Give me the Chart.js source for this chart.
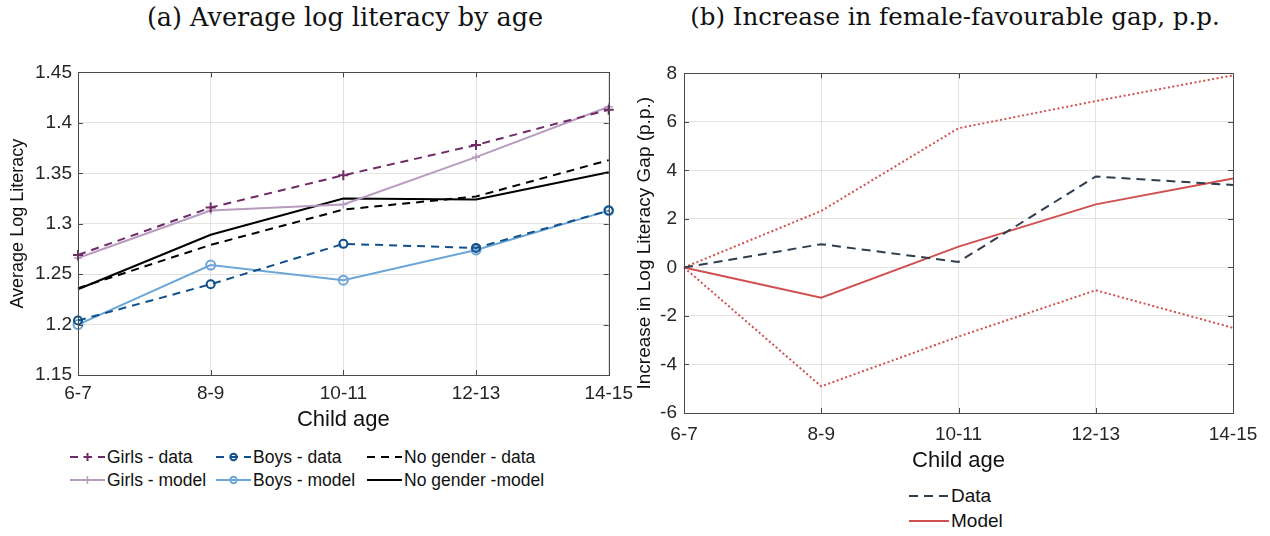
<!DOCTYPE html>
<html>
<head>
<meta charset="utf-8">
<script src="https://cdn.jsdelivr.net/npm/chart.js@4"></script>
<style>
    body { margin: 0; background: #fff; width: 1270px; height: 536px; position: relative; overflow: hidden;
           font-family: "Liberation Sans", Arial, sans-serif; color: #262626; }
    .title { position: absolute; top: 2px; font-family: "DejaVu Serif", serif; color: #111;
             white-space: nowrap; transform: translateX(-50%); }
    canvas { position: absolute; }
    .item { position: absolute; display: flex; align-items: center; white-space: nowrap;
            height: 20px; color: #111; }
    .item svg { margin-right: 2px; }
</style>
</head>
<body>
<div class="title" style="left:345px;font-size:25.5px">(a) Average log literacy by age</div>
<div class="title" style="left:955px;font-size:24.5px">(b) Increase in female-favourable gap, p.p.</div>
<canvas id="chartLeft" width="640" height="382" style="left:0;top:55px"></canvas>
<canvas id="chartRight" width="645" height="424" style="left:625px;top:55px"></canvas>
<div id="legendLeft"></div>
<div id="legendRight"></div>
<script>
// ---- dados ----
const ageGroups = ['6-7', '8-9', '10-11', '12-13', '14-15'];

const girlsData     = [1.269, 1.316, 1.348, 1.378, 1.413];
const girlsModel    = [1.266, 1.313, 1.319, 1.366, 1.416];
const boysData      = [1.204, 1.240, 1.280, 1.276, 1.313];
const boysModel     = [1.200, 1.259, 1.244, 1.274, 1.313];
const noGenderData  = [1.236, 1.279, 1.314, 1.327, 1.363];
const noGenderModel = [1.235, 1.289, 1.325, 1.324, 1.351];
const leftYTicks = [1.15, 1.2, 1.25, 1.3, 1.35, 1.4, 1.45];

const gapData  = [0, 0.96, 0.23, 3.75, 3.40];
const gapModel = [0, -1.25, 0.86, 2.60, 3.67];
const gapUpper = [0, 2.33, 5.74, 6.86, 7.92];
const gapLower = [0, -4.90, -2.85, -0.94, -2.49];
const rightYTicks = [-6, -4, -2, 0, 2, 4, 6, 8];

// ---- cores ----
const C = {
    girlsData: '#6e2b66',
    girlsModel: '#b89cc0',
    boysData: '#12508c',
    boysModel: '#6ca6d8',
    black: '#000000',
    gapData: '#2f3e4e',
    gapModel: '#d0504f'
};

const FONT = 'Liberation Sans';
const gridColor = '#e3e3e3';
const axisColor = '#4a4a4a';

// box estilo MATLAB com ticks para dentro
const boxPlugin = {
    id: 'matlabBox',
    afterDraw(chart) {
        const { ctx, chartArea: a, scales } = chart;
        const t = 5;
        ctx.save();
        ctx.strokeStyle = axisColor;
        ctx.lineWidth = 1;
        ctx.strokeRect(Math.round(a.left) + 0.5, Math.round(a.top) + 0.5,
                       Math.round(a.right - a.left), Math.round(a.bottom - a.top));
        const seg = (x1, y1, x2, y2) => { ctx.beginPath(); ctx.moveTo(x1, y1); ctx.lineTo(x2, y2); ctx.stroke(); };
        scales.y.ticks.forEach(tk => {
            const y = Math.round(scales.y.getPixelForValue(tk.value)) + 0.5;
            seg(a.left, y, a.left + t, y);
            seg(a.right - t, y, a.right, y);
        });
        scales.x.ticks.forEach((tk, i) => {
            const x = Math.round(scales.x.getPixelForTick(i)) + 0.5;
            seg(x, a.bottom, x, a.bottom - t);
            seg(x, a.top, x, a.top + t);
        });
        ctx.restore();
    }
};

function line(label, data, color, opts = {}) {
    return {
        label,
        data,
        borderColor: color,
        backgroundColor: 'rgba(0,0,0,0)',
        borderWidth: opts.width || 2,
        borderDash: opts.dash || [],
        pointStyle: opts.marker || false,
        pointRadius: opts.marker ? (opts.radius || 4) : 0,
        pointBorderWidth: opts.markerWidth || 2,
        pointBorderColor: color,
        pointBackgroundColor: 'rgba(0,0,0,0)',
        tension: 0,
        clip: false,
        showInLegend: opts.legend !== false,
        legendMarker: opts.marker || null
    };
}

function makeOptions(cfg) {
    return {
        responsive: false,
        animation: false,
        layout: { padding: cfg.padding },
        plugins: { legend: { display: false }, tooltip: { enabled: false } },
        scales: {
            x: {
                type: 'category',
                offset: false,
                afterFit: s => { s.height = cfg.xHeight; },
                grid: { color: gridColor, drawTicks: false, offset: false },
                border: { display: false },
                ticks: { color: '#262626', font: { family: FONT, size: cfg.tickSize },
                         padding: cfg.xTickPad, maxRotation: 0, autoSkip: false },
                title: { display: true, text: 'Child age', color: '#111',
                         font: { family: FONT, size: cfg.xTitleSize }, padding: { top: 0, bottom: cfg.xTitlePad } }
            },
            y: {
                min: cfg.yMin,
                max: cfg.yMax,
                afterFit: s => { s.width = cfg.yWidth; },
                afterBuildTicks: s => { s.ticks = cfg.yTicks.map(v => ({ value: v })); },
                grid: { color: gridColor, drawTicks: false },
                border: { display: false },
                ticks: { color: '#262626', font: { family: FONT, size: cfg.tickSize },
                         padding: cfg.yTickPad, callback: v => String(v) },
                title: { display: true, text: cfg.yTitle, color: '#111',
                         font: { family: FONT, size: cfg.yTitleSize }, padding: { top: cfg.yTitlePad, bottom: 0 } }
            }
        }
    };
}

const leftDatasets = [
    line('Girls - data', girlsData, C.girlsData, { dash: [8, 6], marker: 'cross', radius: 5 }),
    line('Girls - model', girlsModel, C.girlsModel, { marker: 'cross', radius: 4, markerWidth: 1.5 }),
    line('Boys - data', boysData, C.boysData, { dash: [8, 6], marker: 'circle', radius: 4 }),
    line('Boys - model', boysModel, C.boysModel, { marker: 'circle', radius: 4.5 }),
    line('No gender - data', noGenderData, C.black, { dash: [8, 6] }),
    line('No gender -model', noGenderModel, C.black)
];

const rightDatasets = [
    line('Data', gapData, C.gapData, { dash: [9, 6] }),
    line('Model', gapModel, C.gapModel),
    line('Upper', gapUpper, C.gapModel, { dash: [2, 2.5], legend: false }),
    line('Lower', gapLower, C.gapModel, { dash: [2, 2.5], legend: false })
];

new Chart(document.getElementById('chartLeft'), {
    type: 'line',
    data: { labels: ageGroups, datasets: leftDatasets },
    options: makeOptions({
        padding: { top: 10, right: 30, left: 0, bottom: 0 },
        xHeight: 62, yWidth: 78, tickSize: 19, xTickPad: 7, xTitleSize: 22, xTitlePad: 4,
        yTickPad: 6, yTitlePad: 7, yTitleSize: 18, yMin: 1.15, yMax: 1.45, yTicks: leftYTicks,
        yTitle: 'Average Log Literacy'
    }),
    plugins: [boxPlugin]
});

new Chart(document.getElementById('chartRight'), {
    type: 'line',
    data: { labels: ageGroups, datasets: rightDatasets },
    options: makeOptions({
        padding: { top: 10, right: 37, left: 0, bottom: 0 },
        xHeight: 66, yWidth: 59, tickSize: 19, xTickPad: 10, xTitleSize: 22, xTitlePad: 5,
        yTickPad: 7, yTitlePad: 8, yTitleSize: 19, yMin: -6, yMax: 8, yTicks: rightYTicks,
        yTitle: 'Increase in Log Literacy Gap (p.p.)'
    }),
    plugins: [boxPlugin]
});

// ---- legenda em HTML (amostras em SVG) ----
function sample(ds, w) {
    const dash = ds.borderDash.length ? `stroke-dasharray="${ds.borderDash.join(',')}"` : '';
    let marker = '';
    const m = w / 2;
    if (ds.legendMarker === 'cross') {
        marker = `<path d="M${m - 4} 10H${m + 4}M${m} 6V14" stroke="${ds.borderColor}" stroke-width="${ds.pointBorderWidth}"/>`;
    } else if (ds.legendMarker === 'circle') {
        marker = `<circle cx="${m}" cy="10" r="3.2" fill="none" stroke="${ds.borderColor}" stroke-width="${ds.pointBorderWidth}"/>`;
    }
    return `<svg width="${w}" height="20"><line x1="0" y1="10" x2="${w}" y2="10" stroke="${ds.borderColor}" stroke-width="2" ${dash}/>${marker}</svg>`;
}

function buildLegend(el, datasets, positions, w, size) {
    el.innerHTML = datasets.filter(d => d.showInLegend).map((d, i) =>
        `<div class="item" style="left:${positions[i][0]}px;top:${positions[i][1]}px;font-size:${size}px">${sample(d, w)}${d.label}</div>`
    ).join('');
}

buildLegend(document.getElementById('legendLeft'), leftDatasets,
    [[70, 447], [70, 470], [216, 447], [216, 470], [367, 447], [367, 470]], 35, 17.5);
buildLegend(document.getElementById('legendRight'), rightDatasets,
    [[909, 486], [909, 511]], 40, 19);
</script>
</body>
</html>
